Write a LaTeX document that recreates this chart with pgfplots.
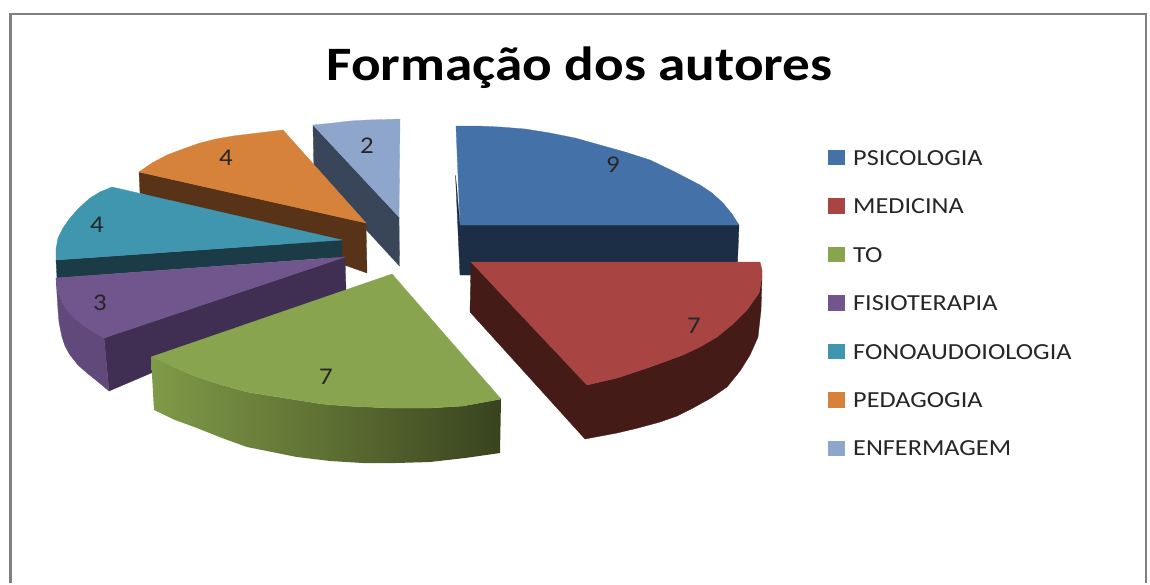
\documentclass[border=0pt]{standalone}
\usepackage{pgfplots}
\pgfplotsset{compat=1.18}
\usepackage{fontspec}
\setmainfont{Carlito}
\definecolor{cBlue}{HTML}{4472A8}\definecolor{cBlueD}{HTML}{1C2E46}
\definecolor{cRed}{HTML}{A84442}\definecolor{cRedD}{HTML}{451B18}
\definecolor{cGreen}{HTML}{88A44E}\definecolor{cGreenL}{HTML}{7F9A48}\definecolor{cGreenM}{HTML}{5E7033}\definecolor{cGreenD}{HTML}{38431E}
\definecolor{cPurple}{HTML}{70568C}\definecolor{cPurpleS}{HTML}{62497C}\definecolor{cPurpleD}{HTML}{402F52}
\definecolor{cTeal}{HTML}{3F96AE}\definecolor{cTealD}{HTML}{1B3B47}
\definecolor{cOrange}{HTML}{D7823B}\definecolor{cOrangeD}{HTML}{593318}
\definecolor{cLight}{HTML}{8FA6CC}\definecolor{cLightD}{HTML}{39465A}
\newcommand{\poly}[2]{\addplot[fill=#1,draw=#1,line width=0.3pt] coordinates {#2} --cycle;}
\newcommand{\lab}[3]{\node[font=\fontsize{24}{24}\selectfont,text=black!85,inner sep=0pt,anchor=center] at (axis cs:#1,#2) {\scalebox{1.12}[1]{#3}};}
\newcommand{\leg}[2]{\node[font=\fontsize{23}{23}\selectfont,text=black!85,inner sep=0pt,anchor=base west] at (axis cs:853,#1) {\scalebox{1.14}[1]{#2}};}
\begin{document}
\begin{tikzpicture}
\begin{axis}[hide axis,scale only axis,width=1150pt,height=583pt,xmin=0,xmax=1150,ymin=0,ymax=583,y dir=reverse,clip=false]
% background
\addplot[fill=white,draw=none] coordinates {(0,0)(1150,0)(1150,583)(0,583)} --cycle;
% frame
\addplot[draw=black!50,line width=2.5pt] coordinates {(10.5,583)(10.5,14)(1146,14)(1146,583)};
% ENFERMAGEM
\poly{cLightD}{(313,125)(399,217)(399.5,266)(314,173)}
\poly{cLight}{(313,125)(333,123)(350,121)(367,120)(385,119.5)(400,119)(399,217)}
% PEDAGOGIA
\poly{cOrangeD}{(139,172)(366,223)(367,273)(140,193)}
\poly{cOrange}{(139,172)(152,163)(167,155)(183,149)(200,143)(216,139)(233,136)(258,133)(283,130)(366,223)}
% FONOAUDIOLOGIA
\poly{cTealD}{(56,260)(342,240)(342,257)(57,278)}
\poly{cTeal}{(112,187)(100,192)(90,198)(79,208)(70,218)(63,228)(58,238)(56,249)(56,260)(342,240)}
% FISIOTERAPIA
\poly{cPurpleD}{(104,338)(345,257)(346,290)(109,391)}
\poly{cPurpleS}{(56,278)(58,293)(67,310)(83,325)(104,338)(109,391)(97,381)(87,373)(78,365)(70,355)(65,346)(62,337)(59,322)(58,310)}
\poly{cPurple}{(56,278)(345,257)(104,338)(93,332)(83,325)(74,318)(67,310)(62,302)(58,293)}
% PSICOLOGIA
\poly{cBlueD}{(455.5,175)(460,225)(739,225)(737,275)(460,275)}
\poly{cBlue}{(456,126)(478,126)(500,127)(525,129)(550,133)(575,138)(600,145)(625,152)(650,160)(675,172)(700,185)(712,193)(723,203)(732,214)(739,225)(460,225)}
% MEDICINA
\poly{cRedD}{(471,262)(587,385)(617,378)(650,367)(683,355)(717,337)(747,310)(759,293)(762,277)(761,310)(758,337)(750,355)(740,371)(727,387)(711,398)(693,408)(677,416)(660,422)(638,428)(617,433)(585,439)(470,312)}
\poly{cRed}{(471,262)(760,262)(762,270)(762,277)(759,293)(747,310)(733,324)(717,337)(700,347)(683,355)(650,367)(617,378)(587,385)}
% TO
\addplot[draw=none,left color=cGreenL,right color=cGreenD,middle color=cGreenM] coordinates {(151,357)(174,367)(197,377)(222,385)(247,392)(272,396)(297,400)(322,404)(347,406)(390,408)(430,408)(463,406)(501,399)(500,453)(465,458)(430,462)(396,463)(363,463)(330,461)(297,457)(272,452)(247,447)(222,438)(197,428)(175,420)(154,410)} --cycle;
\poly{cGreen}{(151,357)(392,274)(501,399)(463,406)(430,408)(390,408)(347,406)(322,404)(297,400)(272,396)(247,392)(222,385)(197,377)(174,367)}
% value labels
\lab{613}{165}{9}
\lab{694}{326}{7}
\lab{326}{377}{7}
\lab{100}{303}{3}
\lab{97}{225}{4}
\lab{226}{158}{4}
\lab{367}{146}{2}
% title
\node[font=\fontsize{48}{48}\selectfont\bfseries,inner sep=0pt,anchor=base] at (axis cs:579.5,80) {\scalebox{1.15}[1]{Formação dos autores}};
% legend
\poly{cBlue}{(828,150)(844,150)(844,164.5)(828,164.5)}
\poly{cRed}{(828,198.5)(844,198.5)(844,213)(828,213)}
\poly{cGreen}{(828,247)(844,247)(844,261.5)(828,261.5)}
\poly{cPurple}{(828,295)(844,295)(844,310)(828,310)}
\poly{cTeal}{(828,344)(844,344)(844,358.5)(828,358.5)}
\poly{cOrange}{(828,392)(844,392)(844,407)(828,407)}
\poly{cLight}{(828,441)(844,441)(844,455.5)(828,455.5)}
\leg{165}{PSICOLOGIA}
\leg{213}{MEDICINA}
\leg{262}{TO}
\leg{310}{FISIOTERAPIA}
\leg{359}{FONOAUDOIOLOGIA}
\leg{407}{PEDAGOGIA}
\leg{455}{ENFERMAGEM}
\end{axis}
\end{tikzpicture}
\end{document}
